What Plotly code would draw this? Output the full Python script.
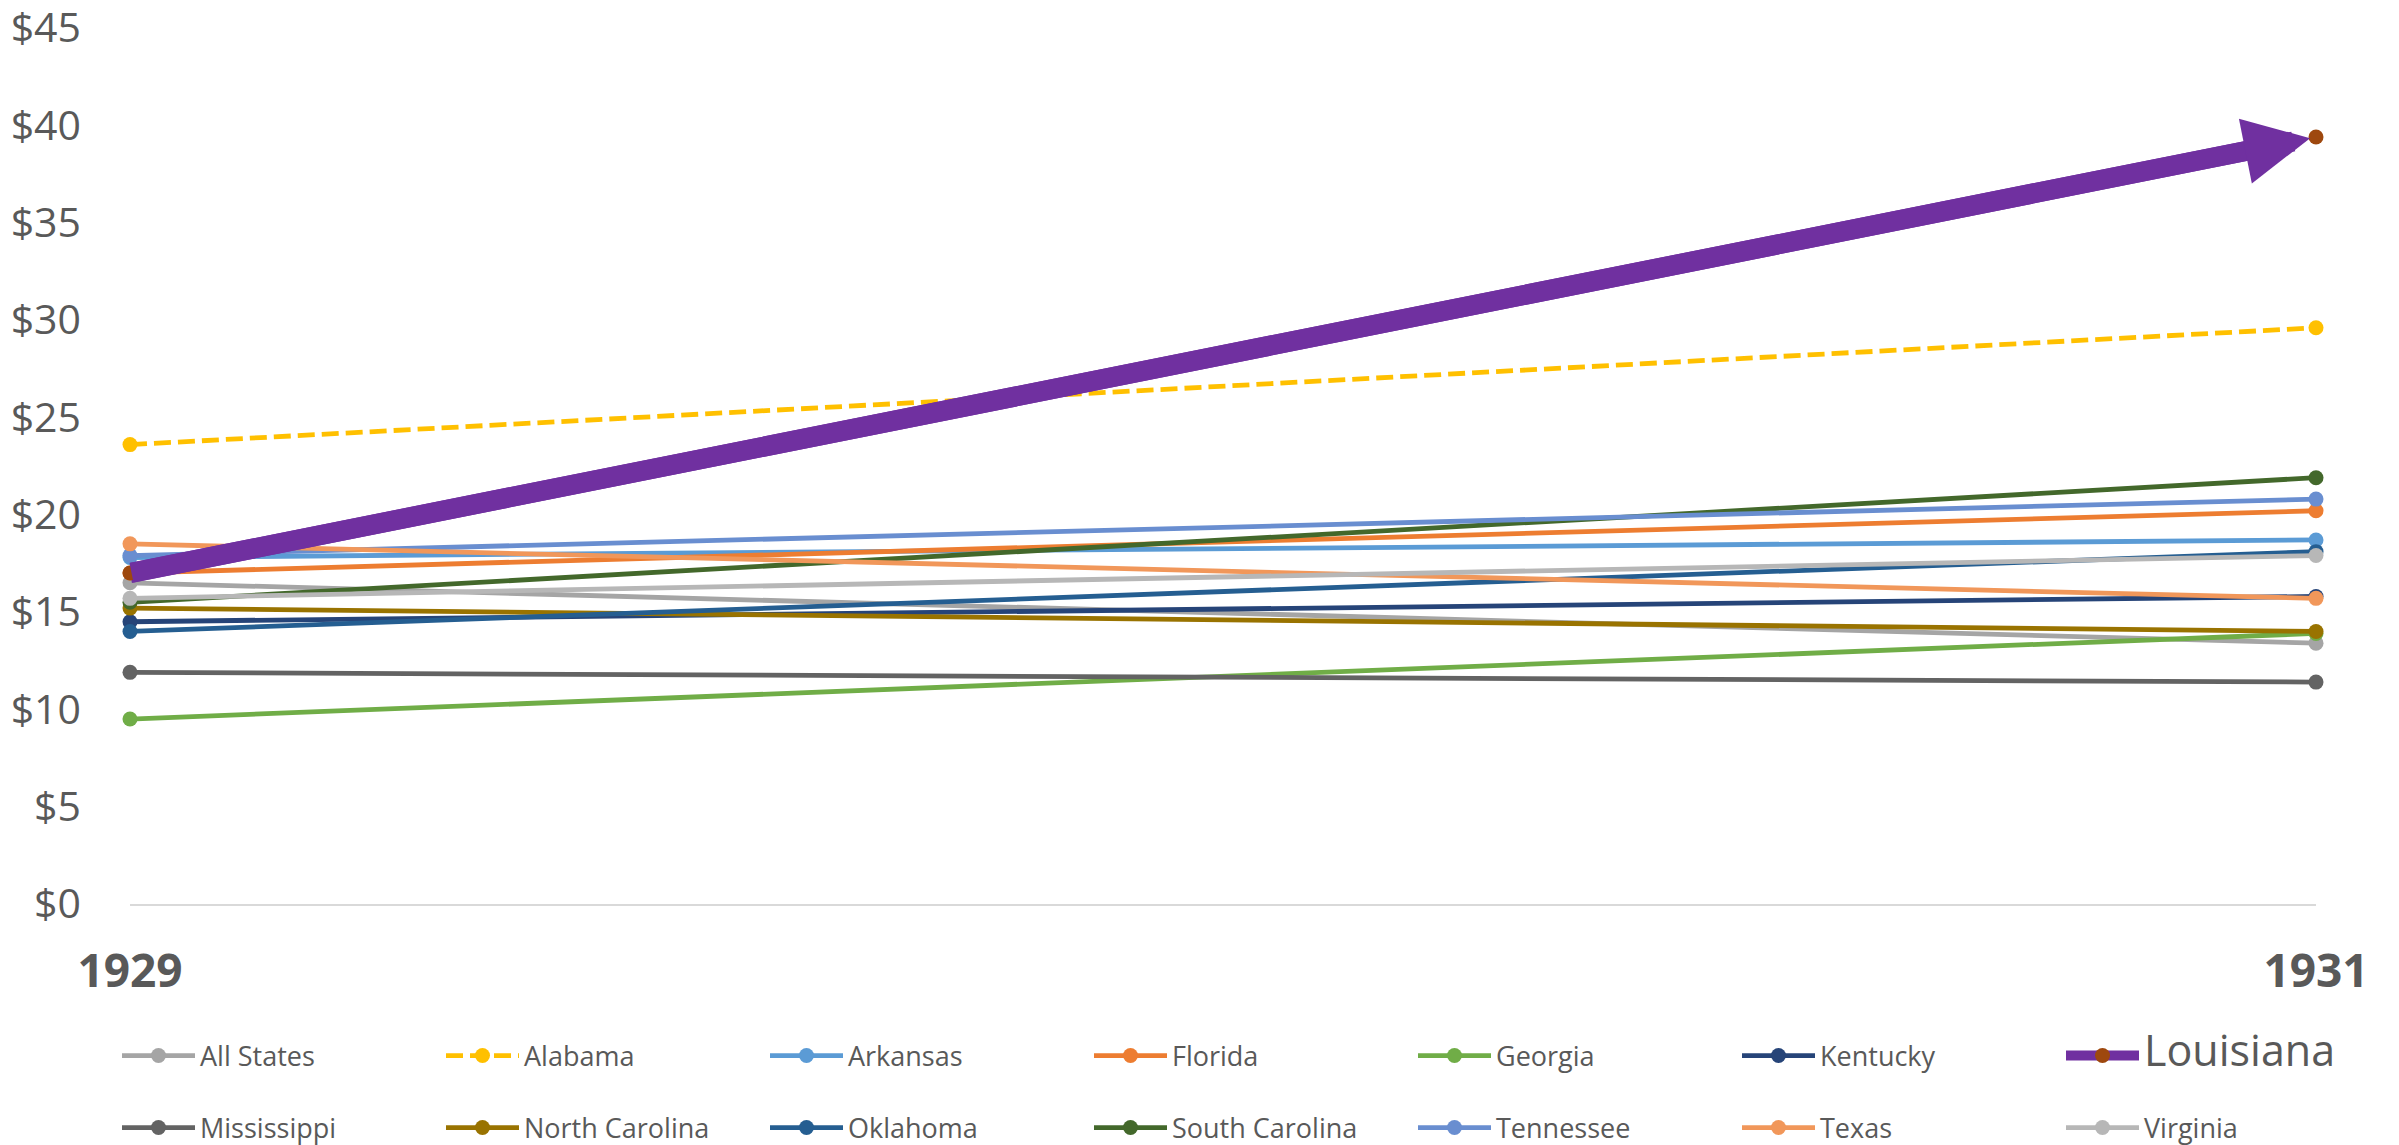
import math
import plotly.graph_objects as go

# ---------------- data ----------------
years = ["1929", "1931"]

states = ["All States", "Alabama", "Arkansas", "Florida", "Georgia", "Kentucky", "Louisiana",
          "Mississippi", "North Carolina", "Oklahoma", "South Carolina", "Tennessee", "Texas", "Virginia"]

all_states = [16.5, 13.4]
alabama = [23.6, 29.6]
arkansas = [17.8, 18.7]
florida = [17.0, 20.2]
georgia = [9.5, 13.9]
kentucky = [14.5, 15.8]
louisiana = [17.0, 39.4]
mississippi = [11.9, 11.4]
north_carolina = [15.2, 14.0]
oklahoma = [14.0, 18.1]
south_carolina = [15.5, 21.9]
tennessee = [17.9, 20.8]
texas = [18.5, 15.7]
virginia = [15.7, 17.9]

y_ticks = [0, 5, 10, 15, 20, 25, 30, 35, 40, 45]
y_ticktext = ["$0", "$5", "$10", "$15", "$20", "$25", "$30", "$35", "$40", "$45"]

series = {
    "All States": all_states, "Alabama": alabama, "Arkansas": arkansas, "Florida": florida,
    "Georgia": georgia, "Kentucky": kentucky, "Louisiana": louisiana,
    "Mississippi": mississippi, "North Carolina": north_carolina, "Oklahoma": oklahoma,
    "South Carolina": south_carolina, "Tennessee": tennessee, "Texas": texas, "Virginia": virginia,
}

colors = {
    "All States": "#A5A5A5", "Alabama": "#FFC000", "Arkansas": "#5B9BD5", "Florida": "#ED7D31",
    "Georgia": "#70AD47", "Kentucky": "#264478", "Louisiana": "#7030A0",
    "Mississippi": "#636363", "North Carolina": "#997300", "Oklahoma": "#255E91",
    "South Carolina": "#43682B", "Tennessee": "#698ED0", "Texas": "#F1975A", "Virginia": "#B7B7B7",
}
louisiana_marker = "#9E480E"

# ---------------- layout geometry ----------------
# the page body has an 8px margin, so the figure is sized/offset to compensate
W, H = 2391, 1137
ML, MR, MT, MB = 122, 83, 20, 241
YMAX = 45
PW, PH = W - ML - MR, H - MT - MB

TEXT = "#595959"
FONT = "Open Sans, Noto Sans, sans-serif"

fig = go.Figure()

# draw order: Louisiana last (on top)
draw_order = [s for s in states if s != "Louisiana"] + ["Louisiana"]
for name in draw_order:
    vals = series[name]
    col = colors[name]
    idx = states.index(name)
    leg = "legend" if idx < 7 else "legend2"
    if name == "Louisiana":
        # visible shaft is drawn by the arrow annotation; trace line stops short of the tip
        dy_px = (vals[1] - vals[0]) / YMAX * PH
        length = math.hypot(PW, dy_px)
        dash = f"{length - 60:.1f}px,4000px"
        fig.add_trace(go.Scatter(
            x=years, y=vals, mode="lines+markers",
            name='<span style="font-size:43px">Louisiana</span>',
            line=dict(color=col, width=20, dash=dash),
            marker=dict(color=louisiana_marker, size=15),
            cliponaxis=False, legendrank=idx, legend=leg,
        ))
    else:
        fig.add_trace(go.Scatter(
            x=years, y=vals, mode="lines+markers", name=name,
            line=dict(color=col, width=4.8, dash="17px,7px" if name == "Alabama" else "solid"),
            marker=dict(color=col, size=15),
            cliponaxis=False, legendrank=idx, legend=leg,
        ))

# arrow for Louisiana
fig.add_annotation(
    x=len(years) - 1, y=louisiana[-1], ax=0, ay=louisiana[0],
    xref="x", yref="y", axref="x", ayref="y",
    showarrow=True, arrowhead=2, arrowsize=0.66, arrowwidth=20, arrowcolor=colors["Louisiana"],
    text="", standoff=6,
)

plot_bottom = MT + PH
legend_common = dict(
    orientation="h", xref="paper", yref="paper",
    x=(109 - ML) / PW, xanchor="left", yanchor="middle",
    entrywidth=236, itemwidth=73,
    font=dict(family=FONT, size=27, color=TEXT),
    traceorder="normal", valign="middle",
)

fig.update_layout(
    width=W, height=H,
    margin=dict(l=ML, r=MR, t=MT, b=MB, autoexpand=False),
    plot_bgcolor="white", paper_bgcolor="white",
    showlegend=True,
    legend=dict(legend_common, y=(plot_bottom - 1048) / PH),
    legend2=dict(legend_common, y=(plot_bottom - 1120) / PH),
    xaxis=dict(
        type="category", range=[0, len(years) - 1], automargin=False,
        showgrid=False, zeroline=False, showline=True, linecolor="#D9D9D9", linewidth=2,
        ticks="", tickfont=dict(family=FONT, size=46, color=TEXT, weight="bold"),
        ticklabelstandoff=26, ticklabeloverflow="allow",
    ),
    yaxis=dict(
        range=[0, YMAX], tickvals=y_ticks, ticktext=y_ticktext, automargin=False,
        showgrid=False, zeroline=False, showline=False, ticks="",
        tickfont=dict(family=FONT, size=41, color=TEXT),
        ticklabelstandoff=48, ticklabeloverflow="allow",
    ),
)

fig.write_html("out.html")
